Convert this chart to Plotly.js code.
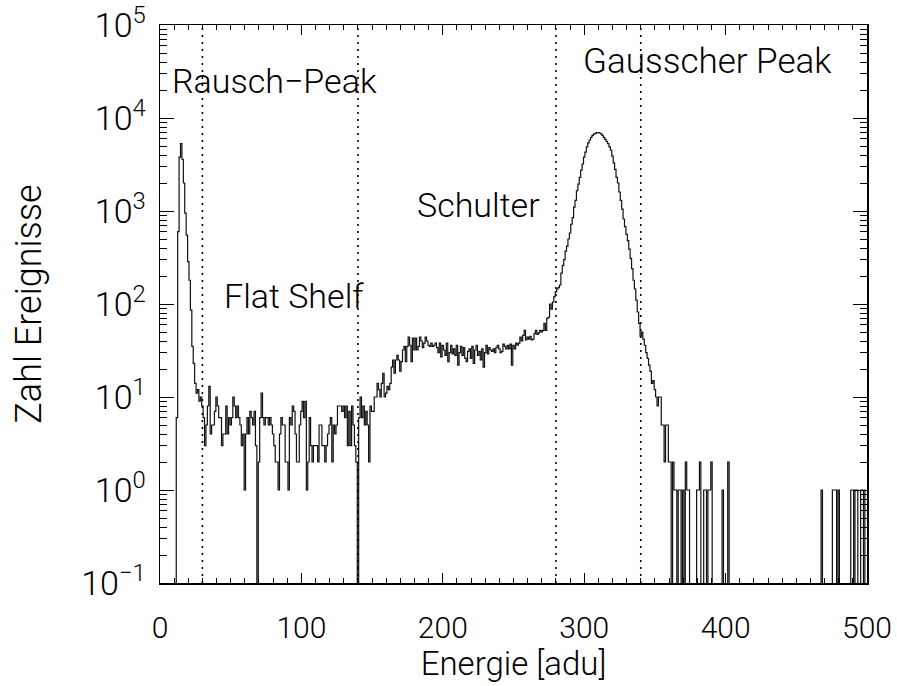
<!DOCTYPE html>
<html>
<head>
<meta charset="utf-8">
<script src="https://cdn.plot.ly/plotly-3.0.1.min.js"></script>
<style>html,body{margin:0;padding:0;background:#fff;}#chart{width:897px;height:686px;}</style>
</head>
<body>
<div id="chart"></div>
<script>
// Histogram counts per 1-adu bin, bins 0..499
const counts = [
  0,0,0,0,0,0,0,0,0,0,
  0,0,6,600,3800,5300,3600,2000,950,550,
  285,180,86,35,23,14,11,12,9,10,
  8,6,3,5,8,13,4,5,5,7,
  10,8,6,6,3,4,4,8,4,6,
  5,6,10,8,6,8,6,5,3,4,
  1,4,6,4,7,6,5,7,3,0,
  2,6,11,6,5,6,6,5,6,5,
  4,3,2,2,1,4,6,5,5,2,
  2,1,6,5,8,7,4,2,2,5,
  7,9,6,9,1,2,6,3,2,3,
  3,3,2,5,5,3,3,2,3,4,
  5,6,2,5,4,5,8,8,8,7,
  8,6,8,3,7,3,8,5,3,2,
  0,6,10,6,8,5,7,5,2,8,
  7,7,10,10,14,12,10,14,18,10,
  11,13,12,14,21,25,18,25,28,25,
  19,24,32,35,24,35,44,36,24,43,
  32,43,32,35,44,40,34,38,44,40,
  36,35,38,35,36,38,34,30,38,27,
  36,32,28,38,24,30,36,29,33,28,
  36,22,30,35,28,34,26,24,31,33,
  26,35,23,32,36,28,31,25,33,21,
  30,36,29,34,32,31,33,30,34,36,
  33,30,31,37,35,33,36,33,37,22,
  36,33,38,36,38,44,40,46,52,41,
  44,42,45,41,42,48,52,47,49,52,
  50,52,62,52,70,72,100,88,105,120,
  135,145,150,160,215,260,300,370,420,500,
  580,720,850,1100,1300,1650,1950,2300,2750,3200,
  3800,4300,4900,5400,5800,6200,6500,6700,6850,6950,
  6950,6900,6750,6500,6200,5900,5600,5300,4900,4500,
  3900,3300,2800,2300,2000,1600,1300,1050,820,680,
  560,480,390,310,240,180,145,110,82,62,
  45,50,42,36,30,26,22,19,14,15,
  12,10,8,10,10,5,5,2,5,5,
  2,2,0,2,1,1,0,1,1,0,
  1,0,2,1,1,0,0,0,0,0,
  1,1,2,0,0,1,1,0,1,1,
  2,0,0,0,0,0,0,0,1,0,
  0,0,2,0,0,0,0,0,0,0,
  0,0,0,0,0,0,0,0,0,0,
  0,0,0,0,0,0,0,0,0,0,
  0,0,0,0,0,0,0,0,0,0,
  0,0,0,0,0,0,0,0,0,0,
  0,0,0,0,0,0,0,0,0,0,
  0,0,0,0,0,0,0,0,1,0,
  0,0,0,0,0,0,1,1,1,0,
  1,0,0,0,0,0,0,0,0,1,
  1,0,1,1,0,0,1,1,0,1
];
// Region boundaries (adu)
const regionEdges = [30, 140, 280, 340];
// Region labels
const regionLabels = ["Rausch\u2212Peak", "Flat Shelf", "Schulter", "Gausscher Peak"];
const labelAdu = [7, 44, 180, 298];
const labelPaperY = [0.90, 0.514, 0.677, 0.934];
// Axis ticks
const xTickVals = [0, 100, 200, 300, 400, 500];
const yTickExps = [-1, 0, 1, 2, 3, 4, 5];

const energy = counts.map((c, i) => i);
const yPlot = counts.map(c => c > 0 ? c : 1e-3);

const yTickVals = yTickExps.map(e => Math.pow(10, e));
const yTickText = yTickExps.map(e => '10<sup>' + (e < 0 ? '\u2212' + (-e) : e) + '</sup>');
const yMinor = [];
for (let e = -1; e < 5; e++) for (let d = 2; d <= 9; d++) yMinor.push(d * Math.pow(10, e));

const FONT = 'Roboto, "Liberation Sans", sans-serif';

const trace = {
  x: energy, y: yPlot, type: 'scatter', mode: 'lines',
  line: {shape: 'hvh', color: '#111', width: 1.2},
  hoverinfo: 'skip'
};

const shapes = regionEdges.map(e => ({
  type: 'line', xref: 'x', yref: 'paper', x0: e, x1: e, y0: 0, y1: 1,
  line: {color: '#000', width: 1.6, dash: '2px,5px'}
}));

const annotations = regionLabels.map((t, i) => ({
  text: t, xref: 'x', yref: 'paper', x: labelAdu[i], y: labelPaperY[i],
  xanchor: 'left', yanchor: 'middle', showarrow: false,
  font: {family: FONT, size: i === 3 ? 35 : 34, color: '#000', weight: 300}
}));

const layout = {
  width: 897, height: 686,
  margin: {l: 160, r: 30, t: 25, b: 103},
  paper_bgcolor: '#fff', plot_bgcolor: '#fff',
  showlegend: false,
  font: {family: FONT, color: '#000', weight: 300},
  xaxis: {
    range: [0, 500], showgrid: false, zeroline: false,
    showline: true, linecolor: '#000', linewidth: 1.5, mirror: 'ticks',
    ticks: 'inside', ticklen: 10, tickwidth: 1, tickcolor: '#000',
    tickmode: 'array', tickvals: xTickVals, ticktext: xTickVals.map(String),
    tickfont: {family: FONT, size: 30, color: '#000', weight: 300},
    ticklabelstandoff: 17,
    minor: {tickmode: 'linear', tick0: 0, dtick: 10, ticks: 'inside', ticklen: 5, tickcolor: '#000', tickwidth: 1},
    title: {text: 'Energie [adu]', font: {family: FONT, size: 33, color: '#000', weight: 300}, standoff: 4}
  },
  yaxis: {
    type: 'log', range: [-1, 5], showgrid: false, zeroline: false,
    showline: true, linecolor: '#000', linewidth: 1.5, mirror: 'ticks',
    ticks: 'inside', ticklen: 14, tickwidth: 1, tickcolor: '#000',
    tickmode: 'array', tickvals: yTickVals, ticktext: yTickText,
    tickfont: {family: FONT, size: 34, color: '#000', weight: 300},
    ticklabelstandoff: 6,
    minor: {tickmode: 'array', tickvals: yMinor, ticks: 'inside', ticklen: 7, tickcolor: '#000', tickwidth: 1},
    title: {text: 'Zahl Ereignisse', font: {family: FONT, size: 36, color: '#000', weight: 300}, standoff: 28}
  },
  shapes: shapes,
  annotations: annotations
};

Plotly.newPlot('chart', [trace], layout, {staticPlot: true, displayModeBar: false});
</script>
</body>
</html>
